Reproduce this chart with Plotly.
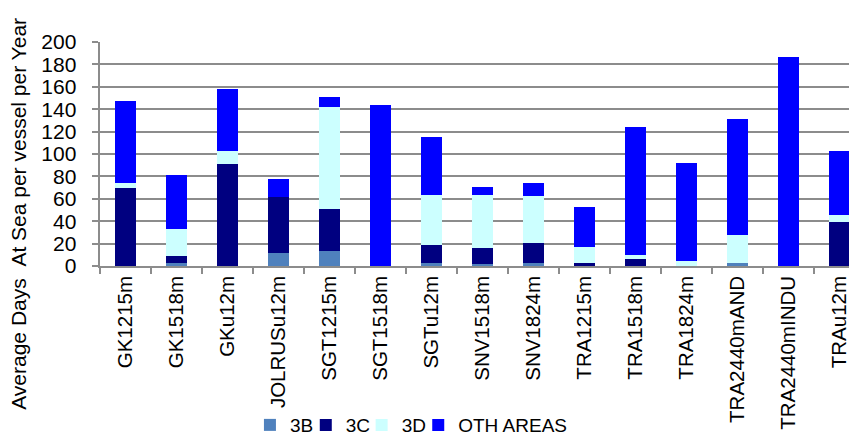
import plotly.graph_objects as go

# vessel segments and average days at sea per vessel per year, split by area
segments = ["GK1215m", "GK1518m", "GKu12m", "JOLRUSu12m", "SGT1215m", "SGT1518m",
            "SGTu12m", "SNV1518m", "SNV1824m", "TRA1215m", "TRA1518m", "TRA1824m",
            "TRA2440mAND", "TRA2440mINDU", "TRAu12m"]
area_3b = [0, 2.4, 0, 11.4, 13.2, 0, 2.4, 2.0, 2.4, 0, 0, 0, 2.4, 0, 0]
area_3c = [70, 6.3, 91, 50.1, 37.6, 0, 16.1, 14.5, 17.9, 2.4, 6.0, 0, 0, 0, 39.1]
area_3d = [4.5, 24.2, 11.7, 0, 91.3, 0, 44.8, 46.6, 42.1, 14.3, 3.6, 4.2, 25.1, 0, 6.3]
area_oth = [73, 48.3, 55.5, 16.1, 8.9, 143.9, 51.9, 7.2, 11.6, 35.9, 114.6, 87.7, 103.8, 186.8, 57.3]

series = [
    ("3B", area_3b, "#4F81BD"),
    ("3C", area_3c, "#000080"),
    ("3D", area_3d, "#CCFFFF"),
    ("OTH AREAS", area_oth, "#0000FF"),
]

font = "Liberation Sans, Arial, sans-serif"

fig = go.Figure()
# one legend per series so the entries sit tight like the original
legend_names = ["legend", "legend2", "legend3", "legend4"]
legend_x = [0.196, 0.269, 0.342, 0.416]
legends = {}
for (name, vals, col), lg, lx in zip(series, legend_names, legend_x):
    fig.add_trace(go.Bar(x=segments, y=vals, name=name, legend=lg,
                         marker=dict(color=col, line=dict(width=0))))
    legends[lg] = dict(orientation="h", x=lx, xanchor="left", y=-0.71, yanchor="middle",
                       font=dict(size=19), itemwidth=30, bgcolor="rgba(0,0,0,0)")

fig.update_layout(
    barmode="stack",
    bargap=0.59,
    width=857, height=435,
    margin=dict(l=92, r=0, t=34, b=177, autoexpand=False),
    paper_bgcolor="white", plot_bgcolor="white",
    font=dict(family=font, size=21, color="black"),
    showlegend=True,
    xaxis=dict(tickangle=-90, showline=True, linecolor="#8c8c8c", automargin=False,
               linewidth=1.5, ticks="outside", tickson="boundaries", ticklen=6,
               tickcolor="#8c8c8c", tickwidth=1.5, showgrid=False,
               tickfont=dict(size=20.5)),
    yaxis=dict(range=[0, 200], dtick=20, showline=True, linecolor="#8c8c8c", automargin=False,
               linewidth=1.5, ticks="outside", ticklen=6, tickcolor="#8c8c8c", tickwidth=1.5,
               ticksuffix="\u00a0\u00a0",
               gridcolor="#8c8c8c", gridwidth=1.5, zeroline=False),
    annotations=[dict(text="Average Days\u00a0\u00a0At Sea per vessel per Year", textangle=-90,
                      xref="paper", yref="paper", x=-0.1075, y=0.232,
                      xanchor="center", yanchor="middle", showarrow=False,
                      font=dict(size=21))],
    **legends,
)

fig.write_html("out.html")
